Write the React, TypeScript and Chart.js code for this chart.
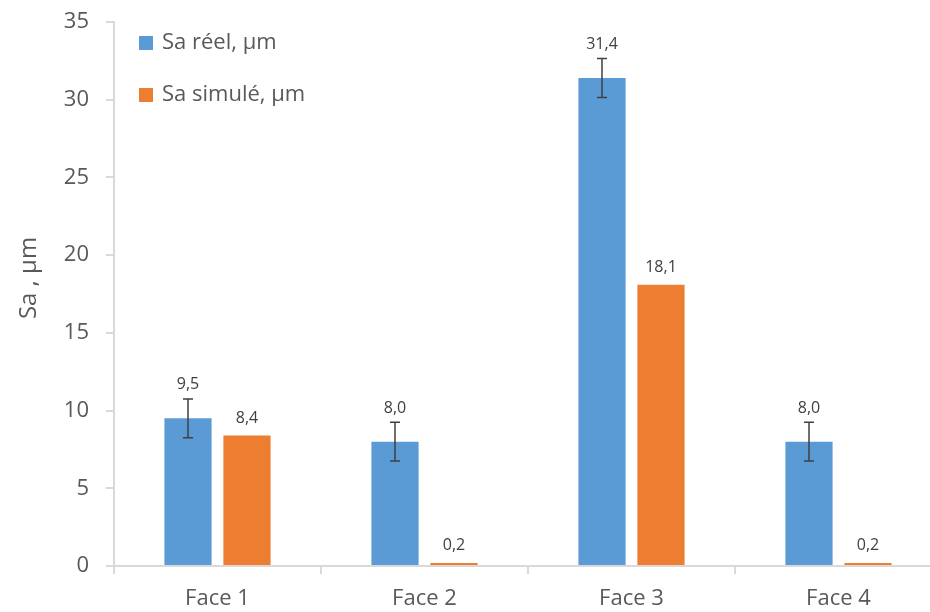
import React, { useEffect, useRef } from "react";
import { Chart, registerables } from "chart.js";

Chart.register(...registerables);

const categories = ["Face 1", "Face 2", "Face 3", "Face 4"];
const saReel = [9.5, 8.0, 31.4, 8.0];
const saReelErr = [1.25, 1.25, 1.25, 1.25];
const saSimule = [8.4, 0.2, 18.1, 0.2];
const seriesNames = ["Sa réel, µm", "Sa simulé, µm"];
const yTitle = "Sa , µm";

const BLUE = "#5B9BD5";
const ORANGE = "#ED7D31";
const FONT = "'Open Sans', sans-serif";

const fmt = (v: number) => v.toFixed(1).replace(".", ",");

const overlayPlugin = {
  id: "overlay",
  afterDatasetsDraw(chart: any) {
    const ctx = chart.ctx;
    const y = chart.scales.y;
    const meta0 = chart.getDatasetMeta(0);
    ctx.save();
    ctx.strokeStyle = "#404040";
    ctx.lineWidth = 1.5;
    meta0.data.forEach((bar: any, i: number) => {
      const v = saReel[i];
      const e = saReelErr[i];
      const yt = y.getPixelForValue(v + e);
      const yb = y.getPixelForValue(v - e);
      const x = bar.x;
      ctx.beginPath();
      ctx.moveTo(x, yt);
      ctx.lineTo(x, yb);
      ctx.moveTo(x - 5, yt);
      ctx.lineTo(x + 5, yt);
      ctx.moveTo(x - 5, yb);
      ctx.lineTo(x + 5, yb);
      ctx.stroke();
    });
    ctx.fillStyle = "#404040";
    ctx.font = "16px " + FONT;
    ctx.textAlign = "center";
    ctx.textBaseline = "bottom";
    meta0.data.forEach((bar: any, i: number) => {
      const top = y.getPixelForValue(saReel[i] + saReelErr[i]);
      ctx.fillText(fmt(saReel[i]), bar.x, top - 6);
    });
    const meta1 = chart.getDatasetMeta(1);
    meta1.data.forEach((bar: any, i: number) => {
      const top = y.getPixelForValue(saSimule[i]);
      ctx.fillText(fmt(saSimule[i]), bar.x, top - 9);
    });
    const colors = [BLUE, ORANGE];
    ctx.font = "22px " + FONT;
    ctx.textAlign = "left";
    ctx.textBaseline = "middle";
    seriesNames.forEach((name, i) => {
      const cy = 43 + i * 52;
      ctx.fillStyle = colors[i];
      ctx.fillRect(139, cy - 7, 14, 14);
      ctx.fillStyle = "#595959";
      ctx.fillText(name, 162, cy);
    });
    // y axis title
    ctx.translate(29, 278);
    ctx.rotate(-Math.PI / 2);
    ctx.font = "24px " + FONT;
    ctx.textAlign = "center";
    ctx.fillStyle = "#595959";
    ctx.fillText(yTitle, 0, 0);
    ctx.restore();
  },
};

export default function App() {
  const ref = useRef<HTMLCanvasElement>(null);
  useEffect(() => {
    document.body.style.margin = "0";
    document.body.style.overflow = "hidden";
    const chart = new Chart(ref.current!, {
      type: "bar",
      data: {
        labels: categories,
        datasets: [
          {
            label: seriesNames[0],
            data: saReel,
            backgroundColor: BLUE,
            categoryPercentage: 0.57,
            barPercentage: 0.8,
          },
          {
            label: seriesNames[1],
            data: saSimule,
            backgroundColor: ORANGE,
            categoryPercentage: 0.57,
            barPercentage: 0.8,
          },
        ],
      },
      options: {
        animation: false,
        responsive: false,
        devicePixelRatio: 1,
        layout: { padding: { top: 22, right: 0, left: 0, bottom: 0 } },
        plugins: {
          legend: { display: false },
          tooltip: { enabled: false },
        },
        scales: {
          x: {
            afterFit: (s: any) => {
              s.height = 46;
              s.paddingLeft = 0;
              s.paddingRight = 0;
            },
            grid: {
              offset: true,
              drawOnChartArea: false,
              drawTicks: true,
              tickLength: 8,
              color: "#D9D9D9",
              lineWidth: 2,
            },
            border: { display: true, color: "#D9D9D9", width: 2 },
            ticks: {
              color: "#595959",
              font: { family: FONT, size: 22 },
              padding: 12,
            },
          },
          y: {
            min: 0,
            max: 35,
            afterFit: (s: any) => {
              s.width = 114;
              s.paddingTop = 0;
              s.paddingBottom = 0;
            },
            grid: {
              drawOnChartArea: false,
              drawTicks: true,
              tickLength: 8,
              color: "#D9D9D9",
              lineWidth: 2,
            },
            border: { display: true, color: "#D9D9D9", width: 2 },
            ticks: {
              stepSize: 5,
              color: "#595959",
              font: { family: FONT, size: 22 },
              padding: 17,
            },
            title: { display: false },
          },
        },
      },
      plugins: [overlayPlugin],
    });
    return () => chart.destroy();
  }, []);
  return (
    <div style={{ position: "absolute", left: 0, top: 0, width: 930, height: 612, overflow: "hidden", background: "#fff" }}>
      <canvas ref={ref} width={942} height={612} style={{ width: 942, height: 612 }} />
    </div>
  );
}
